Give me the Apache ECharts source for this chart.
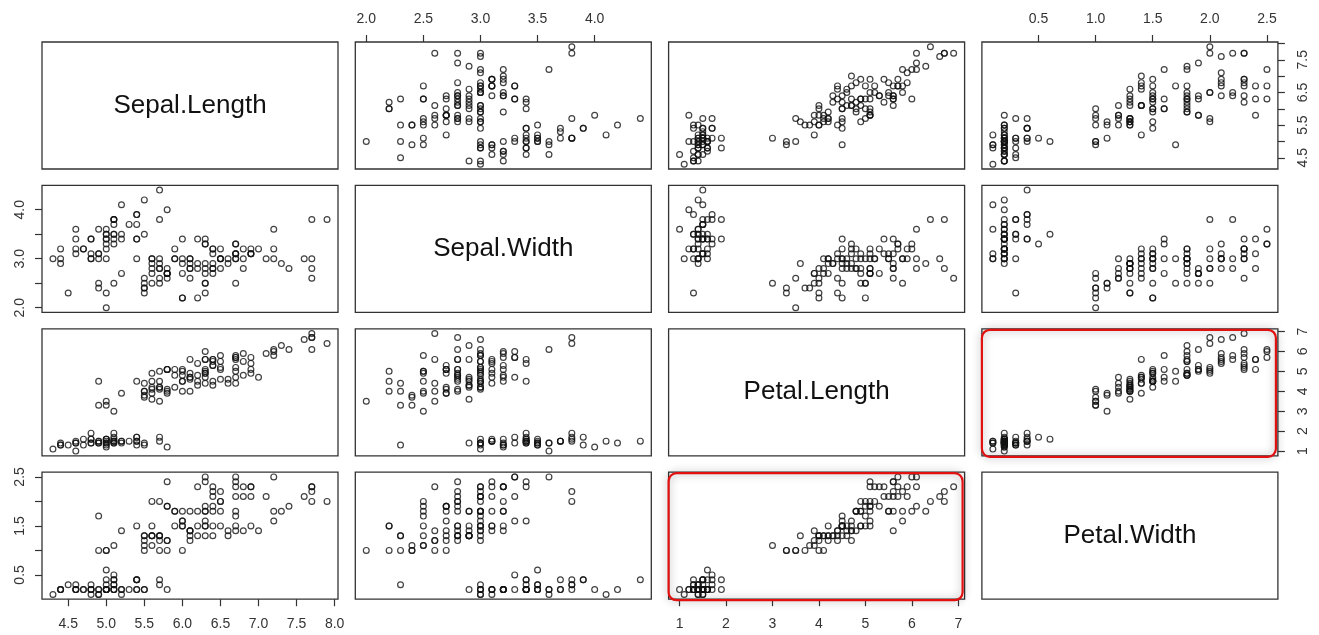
<!DOCTYPE html>
<html>
<head>
<meta charset="utf-8">
<script src="https://cdn.jsdelivr.net/npm/echarts@6/dist/echarts.min.js"></script>
<style>html,body{margin:0;padding:0;background:#fff}#c{width:1319px;height:635px}</style>
</head>
<body>
<div id="c"></div>
<script>
// iris data
const sepalLength = [5.1,4.9,4.7,4.6,5.0,5.4,4.6,5.0,4.4,4.9,5.4,4.8,4.8,4.3,5.8,5.7,5.4,5.1,5.7,5.1,5.4,5.1,4.6,5.1,4.8,5.0,5.0,5.2,5.2,4.7,4.8,5.4,5.2,5.5,4.9,5.0,5.5,4.9,4.4,5.1,5.0,4.5,4.4,5.0,5.1,4.8,5.1,4.6,5.3,5.0,
7.0,6.4,6.9,5.5,6.5,5.7,6.3,4.9,6.6,5.2,5.0,5.9,6.0,6.1,5.6,6.7,5.6,5.8,6.2,5.6,5.9,6.1,6.3,6.1,6.4,6.6,6.8,6.7,6.0,5.7,5.5,5.5,5.8,6.0,5.4,6.0,6.7,6.3,5.6,5.5,5.5,6.1,5.8,5.0,5.6,5.7,5.7,6.2,5.1,5.7,
6.3,5.8,7.1,6.3,6.5,7.6,4.9,7.3,6.7,7.2,6.5,6.4,6.8,5.7,5.8,6.4,6.5,7.7,7.7,6.0,6.9,5.6,7.7,6.3,6.7,7.2,6.2,6.1,6.4,7.2,7.4,7.9,6.4,6.3,6.1,7.7,6.3,6.4,6.0,6.9,6.7,6.9,5.8,6.8,6.7,6.7,6.3,6.5,6.2,5.9];
const sepalWidth = [3.5,3.0,3.2,3.1,3.6,3.9,3.4,3.4,2.9,3.1,3.7,3.4,3.0,3.0,4.0,4.4,3.9,3.5,3.8,3.8,3.4,3.7,3.6,3.3,3.4,3.0,3.4,3.5,3.4,3.2,3.1,3.4,4.1,4.2,3.1,3.2,3.5,3.6,3.0,3.4,3.5,2.3,3.2,3.5,3.8,3.0,3.8,3.2,3.7,3.3,
3.2,3.2,3.1,2.3,2.8,2.8,3.3,2.4,2.9,2.7,2.0,3.0,2.2,2.9,2.9,3.1,3.0,2.7,2.2,2.5,3.2,2.8,2.5,2.8,2.9,3.0,2.8,3.0,2.9,2.6,2.4,2.4,2.7,2.7,3.0,3.4,3.1,2.3,3.0,2.5,2.6,3.0,2.6,2.3,2.7,3.0,2.9,2.9,2.5,2.8,
3.3,2.7,3.0,2.9,3.0,3.0,2.5,2.9,2.5,3.6,3.2,2.7,3.0,2.5,2.8,3.2,3.0,3.8,2.6,2.2,3.2,2.8,2.8,2.7,3.3,3.2,2.8,3.0,2.8,3.0,2.8,3.8,2.8,2.8,2.6,3.0,3.4,3.1,3.0,3.1,3.1,3.1,2.7,3.2,3.3,3.0,2.5,3.0,3.4,3.0];
const petalLength = [1.4,1.4,1.3,1.5,1.4,1.7,1.4,1.5,1.4,1.5,1.5,1.6,1.4,1.1,1.2,1.5,1.3,1.4,1.7,1.5,1.7,1.5,1.0,1.7,1.9,1.6,1.6,1.5,1.4,1.6,1.6,1.5,1.5,1.4,1.5,1.2,1.3,1.4,1.3,1.5,1.3,1.3,1.3,1.6,1.9,1.4,1.6,1.4,1.5,1.4,
4.7,4.5,4.9,4.0,4.6,4.5,4.7,3.3,4.6,3.9,3.5,4.2,4.0,4.7,3.6,4.4,4.5,4.1,4.5,3.9,4.8,4.0,4.9,4.7,4.3,4.4,4.8,5.0,4.5,3.5,3.8,3.7,3.9,5.1,4.5,4.5,4.7,4.4,4.1,4.0,4.4,4.6,4.0,3.3,4.2,4.2,4.2,4.3,3.0,4.1,
6.0,5.1,5.9,5.6,5.8,6.6,4.5,6.3,5.8,6.1,5.1,5.3,5.5,5.0,5.1,5.3,5.5,6.7,6.9,5.0,5.7,4.9,6.7,4.9,5.7,6.0,4.8,4.9,5.6,5.8,6.1,6.4,5.6,5.1,5.6,6.1,5.6,5.5,4.8,5.4,5.6,5.1,5.1,5.9,5.7,5.2,5.0,5.2,5.4,5.1];
const petalWidth = [0.2,0.2,0.2,0.2,0.2,0.4,0.3,0.2,0.2,0.1,0.2,0.2,0.1,0.1,0.2,0.4,0.4,0.3,0.3,0.3,0.2,0.4,0.2,0.5,0.2,0.2,0.4,0.2,0.2,0.2,0.2,0.4,0.1,0.2,0.2,0.2,0.2,0.1,0.2,0.2,0.3,0.3,0.2,0.6,0.4,0.3,0.2,0.2,0.2,0.2,
1.4,1.5,1.5,1.3,1.5,1.3,1.6,1.0,1.3,1.4,1.0,1.5,1.0,1.4,1.3,1.4,1.5,1.0,1.5,1.1,1.8,1.3,1.5,1.2,1.3,1.4,1.4,1.7,1.5,1.0,1.1,1.0,1.2,1.6,1.5,1.6,1.5,1.3,1.3,1.3,1.2,1.4,1.2,1.0,1.3,1.2,1.3,1.3,1.1,1.3,
2.5,1.9,2.1,1.8,2.2,2.1,1.7,1.8,1.8,2.5,2.0,1.9,2.1,2.0,2.4,2.3,1.8,2.2,2.3,1.5,2.3,2.0,2.0,1.8,2.1,1.8,1.8,1.8,2.1,1.6,1.9,2.0,2.2,1.5,1.4,2.3,2.4,1.8,1.8,2.1,2.4,2.3,1.9,2.3,2.5,2.3,1.9,2.0,2.3,1.8];

const varNames = ['Sepal.Length', 'Sepal.Width', 'Petal.Length', 'Petal.Width'];

// tick positions and labels per variable
const ticksSepalLength = [4.5, 5.0, 5.5, 6.0, 6.5, 7.0, 7.5, 8.0];
const labelsSepalLengthBottom = [4.5, 5.0, 5.5, 6.0, 6.5, 7.0, 7.5, 8.0];
const labelsSepalLengthRight = [4.5, 5.5, 6.5, 7.5];
const ticksSepalWidth = [2.0, 2.5, 3.0, 3.5, 4.0];
const labelsSepalWidthTop = [2.0, 2.5, 3.0, 3.5, 4.0];
const labelsSepalWidthLeft = [2.0, 3.0, 4.0];
const ticksPetalLength = [1, 2, 3, 4, 5, 6, 7];
const labelsPetalLengthBottom = [1, 2, 3, 4, 5, 6, 7];
const labelsPetalLengthRight = [1, 2, 3, 4, 5, 6, 7];
const ticksPetalWidth = [0.5, 1.0, 1.5, 2.0, 2.5];
const labelsPetalWidthTop = [0.5, 1.0, 1.5, 2.0, 2.5];
const labelsPetalWidthLeft = [0.5, 1.5, 2.5];

const highlighted = [[2, 3], [3, 2]]; // [row, col] panels outlined in red

const vars = [sepalLength, sepalWidth, petalLength, petalWidth];
const ticks = [ticksSepalLength, ticksSepalWidth, ticksPetalLength, ticksPetalWidth];
const decimals = [1, 1, 0, 1];
const labelsX = [labelsSepalLengthBottom, labelsSepalWidthTop, labelsPetalLengthBottom, labelsPetalWidthTop];
const labelsY = [labelsSepalLengthRight, labelsSepalWidthLeft, labelsPetalLengthRight, labelsPetalWidthLeft];

// R-style 4% range extension
const ranges = vars.map(v => {
  const mn = Math.min(...v), mx = Math.max(...v), d = (mx - mn) * 0.04;
  return [mn - d, mx + d];
});

const L0 = 42, T0 = 42, W = 296, H = 127, SX = 313.3, SY = 143.4;
const FONT = '"Liberation Sans", Arial, sans-serif';
const MARGINS = {top: 16, bottom: 18, left: 15, right: 18};

const grids = [], xAxes = [], yAxes = [], series = [], graphics = [];
let k = 0;
for (let i = 0; i < 4; i++) {
  for (let j = 0; j < 4; j++) {
    const left = L0 + j * SX, top = T0 + i * SY;
    grids.push({left: left, top: top, width: W, height: H, show: true,
      borderColor: '#333', borderWidth: 1.3, backgroundColor: 'transparent', containLabel: false});
    let xPos = null, yPos = null;
    if (i !== j) {
      if (i === 0 && j % 2 === 1) xPos = 'top';
      if (i === 3 && j % 2 === 0) xPos = 'bottom';
      if (j === 0 && i % 2 === 1) yPos = 'left';
      if (j === 3 && i % 2 === 0) yPos = 'right';
    }
    const dj = decimals[j], di = decimals[i];
    xAxes.push({
      type: 'value', gridIndex: k, min: ranges[j][0], max: ranges[j][1],
      position: xPos || 'bottom',
      axisLine: {show: false}, splitLine: {show: false},
      axisTick: {show: !!xPos, inside: false, length: 7, lineStyle: {color: '#333', width: 1.2}, customValues: ticks[j]},
      axisLabel: {show: !!xPos, margin: MARGINS[xPos || 'bottom'], fontSize: 14, fontFamily: FONT, color: '#333',
        customValues: labelsX[j], formatter: v => Number(v).toFixed(dj)}
    });
    yAxes.push({
      type: 'value', gridIndex: k, min: ranges[i][0], max: ranges[i][1],
      position: yPos || 'left',
      axisLine: {show: false}, splitLine: {show: false},
      axisTick: {show: !!yPos, inside: false, length: 7, lineStyle: {color: '#333', width: 1.2}, customValues: ticks[i]},
      axisLabel: {show: !!yPos, rotate: 90, margin: MARGINS[yPos || 'left'], fontSize: 14, fontFamily: FONT, color: '#333',
        customValues: labelsY[i], formatter: v => Number(v).toFixed(di)}
    });
    if (i === j) {
      graphics.push({type: 'text', x: left + W / 2, y: top + H / 2, z: 10,
        style: {text: varNames[i], font: '26px ' + FONT, fill: '#111', textAlign: 'center', textVerticalAlign: 'middle'}});
    } else {
      const xs = vars[j], ys = vars[i];
      series.push({
        type: 'scatter', xAxisIndex: k, yAxisIndex: k, symbol: 'circle', symbolSize: 5.8,
        silent: true, animation: false,
        itemStyle: {color: 'rgba(0,0,0,0)', borderColor: '#111', borderWidth: 1.2},
        data: xs.map((x, n) => [x, ys[n]])
      });
    }
    if (highlighted.some(p => p[0] === i && p[1] === j)) {
      graphics.push({type: 'rect', z: 20,
        shape: {x: left, y: top + 1, width: W - 2, height: H, r: 8},
        style: {fill: 'none', stroke: '#e31010', lineWidth: 2.2, shadowBlur: 9, shadowColor: 'rgba(0,0,0,0.4)'}});
    }
    k++;
  }
}

const chart = echarts.init(document.getElementById('c'), null, {renderer: 'canvas'});
chart.setOption({
  animation: false,
  backgroundColor: '#fff',
  grid: grids, xAxis: xAxes, yAxis: yAxes, series: series, graphic: graphics
});
</script>
</body>
</html>
